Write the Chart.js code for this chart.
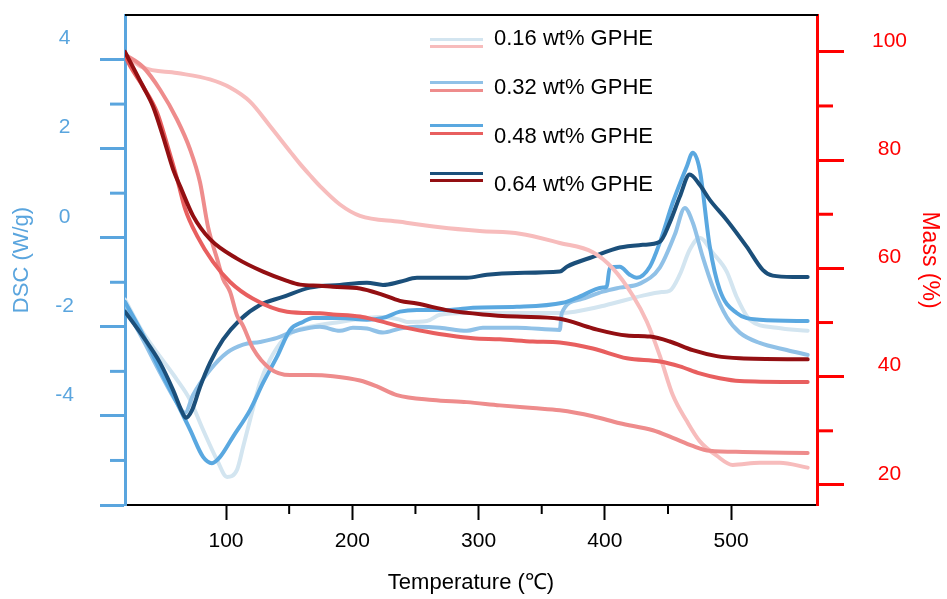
<!DOCTYPE html>
<html>
<head>
<meta charset="utf-8">
<title>DSC / TGA</title>
<script src="https://cdn.jsdelivr.net/npm/chart.js@4.4.1/dist/chart.umd.min.js"></script>
<style>
  body { margin: 0; background: #fff; }
  #wrap { position: relative; width: 947px; height: 599px; }
  #legend { position: absolute; left: 0; top: 0; font-family: "Liberation Sans", Arial, sans-serif; font-size: 22px; color: #000; }
  #legend .ln { position: absolute; left: 430px; width: 53px; height: 3px; }
  #legend .txt { position: absolute; left: 494px; line-height: 26px; white-space: nowrap; }
</style>
</head>
<body>
<div id="wrap">
  <canvas id="chart" width="947" height="599"></canvas>
  <div id="legend"></div>
</div>
<script>
// -----------------------------
// Data
// -----------------------------
const seriesLabels = ['0.16 wt% GPHE', '0.32 wt% GPHE', '0.48 wt% GPHE', '0.64 wt% GPHE'];

// DSC curves, temperature (°C) and heat flow (W/g)
const dscT016 = [20, 34.3, 47.8, 61.2, 71.5, 81.8, 92.9, 100.8, 108.7, 113.5, 119, 126.9, 134.8, 145.1, 156.2, 166.5, 190.2, 211.6, 224.3, 237.7, 243.3, 259.1, 269.4, 290.7, 364.3, 376.2, 400, 430, 445, 451.4, 459.3, 467.2, 475.1, 485.4, 496.5, 504.4, 514.7, 536.1, 560.6];
const dsc016  = [-1.39, -2.13, -2.67, -3.19, -3.64, -4.31, -4.99, -5.37, -5.21, -4.7, -4.09, -3.26, -2.74, -2.29, -2.07, -2, -1.89, -1.8, -1.78, -1.84, -1.89, -1.87, -1.73, -1.69, -1.69, -1.66, -1.52, -1.3, -1.22, -1.19, -0.83, -0.27, 0, -0.34, -0.76, -1.33, -1.84, -2.02, -2.09];

const dscT032 = [20, 34.3, 47.8, 61.2, 67.6, 73.9, 87.3, 100.8, 113.5, 126.9, 140.4, 150.7, 166.5, 174.4, 190.2, 200.5, 211.6, 224.3, 237.7, 251.2, 269.4, 290.7, 303.4, 330.3, 364.3, 365.9, 380.2, 398.4, 411.8, 427.7, 443.5, 455.4, 463.3, 469.6, 477.5, 485.4, 496.5, 506.8, 522.6, 544, 560.6];
const dsc032  = [-1.55, -2.29, -3.03, -3.71, -3.93, -3.53, -2.97, -2.58, -2.4, -2.34, -2.25, -2.13, -2.02, -2, -2.09, -2.02, -2.04, -2.13, -2.04, -2, -2.02, -2.09, -2.02, -2.02, -2.07, -1.69, -1.39, -1.21, -1.12, -1.03, -0.67, 0.07, 0.67, 0.34, -0.43, -1.1, -1.78, -2.13, -2.36, -2.52, -2.63];

const dscT048 = [20, 34.3, 47.8, 61.2, 71.5, 81.8, 88.9, 95.3, 105.5, 119, 129.3, 140.4, 150.7, 160.9, 168.9, 190.2, 211.6, 224.3, 237.7, 251.2, 277.3, 295.5, 330.3, 366.7, 377.8, 398.4, 401.5, 403.9, 411.8, 419.7, 425.3, 435.6, 443.5, 453.8, 464.9, 469.6, 475.1, 483.1, 491, 504.4, 522.6, 560.6];
const dsc048  = [-1.44, -2.18, -2.97, -3.71, -4.31, -4.92, -5.06, -4.92, -4.47, -3.87, -3.26, -2.67, -2.07, -1.89, -1.8, -1.8, -1.84, -1.8, -1.66, -1.62, -1.62, -1.57, -1.55, -1.46, -1.35, -1.12, -1.1, -0.67, -0.65, -0.83, -0.9, -0.65, -0.11, 0.79, 1.6, 1.91, 1.53, -0.2, -1.17, -1.69, -1.84, -1.87];

const dscT064 = [20, 34.3, 47.8, 58.1, 65.2, 68.3, 73.1, 79.4, 87.3, 97.6, 111.1, 126.9, 145.1, 166.5, 190.2, 211.6, 224.3, 237.7, 251.2, 290.7, 306.6, 330.3, 364.3, 369.9, 390.5, 411.8, 430, 443.5, 451.4, 459.3, 467.2, 475.1, 483.1, 496.5, 512.3, 525, 532.9, 548.8, 560.6];
const dsc064  = [-1.66, -2.22, -2.81, -3.42, -3.91, -4.04, -3.87, -3.35, -2.81, -2.29, -1.84, -1.51, -1.33, -1.12, -1.06, -1.01, -1.06, -0.99, -0.9, -0.9, -0.83, -0.79, -0.76, -0.65, -0.43, -0.22, -0.16, -0.09, 0.34, 0.92, 1.42, 1.19, 0.85, 0.4, -0.2, -0.72, -0.85, -0.88, -0.88];

// TGA curves, temperature (°C) and mass (%)
const tgaT016 = [20.1, 34.3, 61.2, 87.3, 103.2, 119, 134.8, 150.7, 158.6, 166.5, 174.4, 190.2, 206.1, 237.7, 269.4, 301, 332.7, 364.3, 390.5, 406.3, 422.1, 433.2, 443.5, 453.8, 464.9, 475.1, 488.6, 501.3, 522.6, 538.5, 560.6];
const mass016 = [99.4, 97.1, 96.1, 94.9, 93.4, 90.8, 86.3, 81.6, 79.3, 77.2, 75.2, 71.8, 69.7, 68.6, 67.6, 66.9, 66.4, 64.7, 63, 60, 55, 50.2, 43.9, 36.6, 31.8, 28.1, 25.4, 23.7, 24.1, 24.1, 23.2];

const tgaT032 = [20, 34.3, 47.8, 61.2, 71.5, 79.4, 85.8, 92.9, 97.6, 103.2, 108.7, 113.5, 121.4, 134.8, 150.7, 166.5, 184.7, 206.1, 219.5, 235.3, 263.8, 290.7, 316.9, 343, 364.3, 390.5, 411.8, 438, 453.8, 469.6, 483.1, 509.2, 560.6];
const mass032 = [99.5, 97.2, 93, 87.5, 82, 75.9, 67.6, 61.8, 58.1, 55.7, 51.3, 49.4, 45.2, 41.5, 40.3, 40.3, 40.1, 39.3, 38.2, 36.6, 35.7, 35.3, 34.7, 34.2, 33.8, 32.7, 31.4, 30.1, 28.7, 27.2, 26.3, 26.1, 25.9];

const tgaT048 = [20, 24, 34.3, 45.4, 53.3, 62, 67.6, 77.1, 89.7, 103.2, 121.4, 148.3, 174.4, 184.7, 206.1, 219.5, 237.7, 259.1, 277.3, 295.5, 316.9, 343, 364.3, 390.5, 417.4, 443.5, 459.3, 475.1, 491, 506.8, 560.6];
const mass048 = [99.4, 97.4, 93.6, 88.8, 82.9, 75.9, 71, 66, 61.2, 57.5, 54.4, 52, 51.7, 51.5, 51.1, 50.4, 49.3, 48.3, 47.6, 47.1, 46.9, 46.5, 46.3, 45.2, 43.4, 42.8, 41.9, 40.6, 39.7, 39.2, 39];

const tgaT064 = [20, 34.3, 42.2, 50.1, 58.1, 63.6, 73.9, 87.3, 108.7, 129.3, 148.3, 158.6, 174.4, 184.7, 206.1, 221.9, 237.7, 251.2, 277.3, 303.4, 330.3, 364.3, 390.5, 417.4, 435.6, 451.4, 469.6, 488.6, 506.8, 560.6];
const mass064 = [100, 93.6, 89.9, 84.4, 78.3, 75.2, 69.7, 65.4, 61.8, 59.4, 57.7, 57, 56.8, 56.6, 56.3, 55.3, 54, 53.5, 52.2, 51.5, 51.1, 50.7, 48.9, 47.6, 47.4, 46.5, 44.9, 43.8, 43.4, 43.2];

// minor tick positions
const tempMinor = [150, 250, 350, 450];
const dscMinor = [-5, -3, -1, 1, 3];
const massMinor = [30, 50, 70, 90];

// -----------------------------
// Styles
// -----------------------------
const BLUE_AXIS = '#5aa5de';
const RED_AXIS = '#ff0000';
const blueColors = ['#d3e5f0', '#90c1e7', '#5aa8e0', '#1b4f7a'];
const redColors = ['#f7bcbc', '#ee8c8c', '#e85f5f', '#930f12'];
const FONT = '"Liberation Sans", Arial, sans-serif';

Chart.defaults.font.family = FONT;

const pts = (xs, ys) => xs.map((x, i) => ({ x, y: ys[i] }));

const dscSets = [[dscT016, dsc016], [dscT032, dsc032], [dscT048, dsc048], [dscT064, dsc064]];
const tgaSets = [[tgaT016, mass016], [tgaT032, mass032], [tgaT048, mass048], [tgaT064, mass064]];

// reds first so they sit on top
const datasets = [];
for (let i = 3; i >= 0; i--) {
  datasets.push({ label: seriesLabels[i] + ' TGA', data: pts(...tgaSets[i]), yAxisID: 'y1', borderColor: redColors[i] });
}
for (let i = 3; i >= 0; i--) {
  datasets.push({ label: seriesLabels[i] + ' DSC', data: pts(...dscSets[i]), yAxisID: 'y', borderColor: blueColors[i] });
}

// -----------------------------
// Minor ticks + top frame
// -----------------------------
const extraTicks = {
  id: 'extraTicks',
  afterDraw(chart) {
    const { ctx, chartArea: a, scales } = chart;
    ctx.save();
    ctx.strokeStyle = '#000';
    ctx.lineWidth = 2;
    ctx.beginPath(); ctx.moveTo(a.left, a.top); ctx.lineTo(a.right + 1, a.top); ctx.stroke();

    tempMinor.forEach(v => {
      const x = scales.x.getPixelForValue(v);
      ctx.beginPath(); ctx.moveTo(x, a.bottom); ctx.lineTo(x, a.bottom + 9); ctx.stroke();
    });
    ctx.strokeStyle = BLUE_AXIS;
    ctx.lineWidth = 3;
    dscMinor.forEach(v => {
      const y = scales.y.getPixelForValue(v);
      ctx.beginPath(); ctx.moveTo(a.left, y); ctx.lineTo(a.left - 15, y); ctx.stroke();
    });
    ctx.strokeStyle = RED_AXIS;
    massMinor.forEach(v => {
      const y = scales.y1.getPixelForValue(v);
      ctx.beginPath(); ctx.moveTo(a.right, y); ctx.lineTo(a.right + 16, y); ctx.stroke();
    });
    ctx.restore();
  }
};

new Chart(document.getElementById('chart'), {
  type: 'line',
  data: { datasets },
  plugins: [extraTicks],
  options: {
    responsive: false,
    animation: false,
    layout: { padding: { top: 15, left: 0, right: 0, bottom: 0 } },
    elements: {
      point: { radius: 0 },
      line: { borderWidth: 4, cubicInterpolationMode: 'monotone', borderCapStyle: 'round', borderJoinStyle: 'round' }
    },
    plugins: { legend: { display: false }, tooltip: { enabled: false } },
    scales: {
      x: {
        type: 'linear', min: 20, max: 568,
        afterFit: s => { s.height = 94; s.paddingLeft = 0; s.paddingRight = 0; },
        border: { color: '#000', width: 2 },
        grid: { drawOnChartArea: false, tickLength: 15, tickWidth: 2, tickColor: '#000' },
        ticks: { stepSize: 100, includeBounds: false, color: '#000', font: { size: 21 }, padding: 9, maxRotation: 0 },
        title: { display: true, text: 'Temperature (℃)', color: '#000', font: { size: 22 }, padding: { top: 0, bottom: 3 } }
      },
      y: {
        type: 'linear', position: 'left', min: -6, max: 5,
        afterFit: s => { s.width = 125; s.paddingTop = 0; s.paddingBottom = 0; },
        border: { color: BLUE_AXIS, width: 3 },
        grid: { drawOnChartArea: false, tickLength: 25, tickWidth: 3, tickColor: BLUE_AXIS },
        ticks: { stepSize: 2, includeBounds: false, color: BLUE_AXIS, font: { size: 21 }, padding: 26, crossAlign: 'center', labelOffset: -21,
                 callback: v => v === -6 ? '' : v },
        title: { display: true, text: 'DSC (W/g)', color: BLUE_AXIS, font: { size: 22 }, padding: { top: 9, bottom: 0 } }
      },
      y1: {
        type: 'linear', position: 'right', min: 16.3, max: 106.8,
        afterFit: s => { s.width = 130; s.paddingTop = 0; s.paddingBottom = 0; },
        border: { color: RED_AXIS, width: 3 },
        grid: { drawOnChartArea: false, tickLength: 27, tickWidth: 3, tickColor: RED_AXIS },
        ticks: { stepSize: 20, includeBounds: false, color: RED_AXIS, font: { size: 21 }, padding: 28, crossAlign: 'center', labelOffset: -11 },
        title: { display: true, text: 'Mass (%)', color: RED_AXIS, font: { size: 23 }, padding: { top: 4, bottom: 0 } }
      }
    }
  }
});

// -----------------------------
// Legend (two swatches per entry)
// -----------------------------
const legendLineY = [39, 82.5, 125.5, 173];
const legendTextY = [38, 86.5, 135.5, 183.5];
const legend = document.getElementById('legend');
seriesLabels.forEach((lab, i) => {
  const b = document.createElement('div');
  b.className = 'ln'; b.style.top = (legendLineY[i] - 1.5) + 'px'; b.style.background = blueColors[i];
  const r = document.createElement('div');
  r.className = 'ln'; r.style.top = (legendLineY[i] + 6) + 'px'; r.style.background = redColors[i];
  const t = document.createElement('div');
  t.className = 'txt'; t.style.top = (legendTextY[i] - 13) + 'px'; t.textContent = lab;
  legend.append(b, r, t);
});
</script>
</body>
</html>
